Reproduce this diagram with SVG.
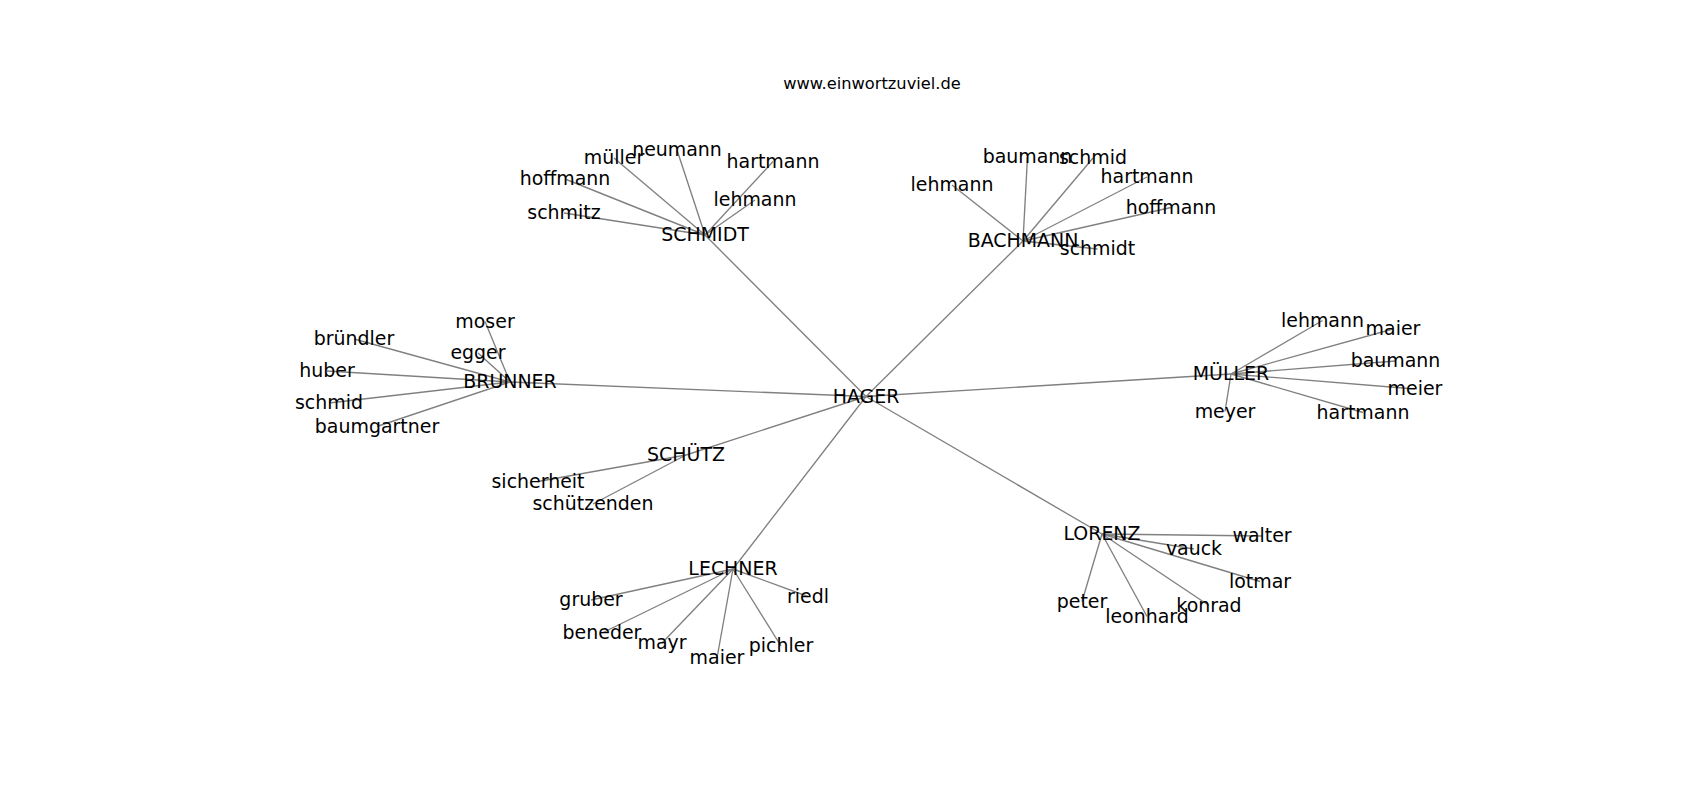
<svg xmlns="http://www.w3.org/2000/svg" width="1700" height="800" viewBox="0 0 1700 800">
<style>
text{font-family:"DejaVu Sans",sans-serif;fill:#000;text-anchor:middle}
.n{font-size:18.95px}
.t{font-size:16.25px}
#edges line{stroke:#808080;stroke-width:1.35}
</style>
<rect width="1700" height="800" fill="#fff"/>
<text class="t" x="872" y="88.8">www.einwortzuviel.de</text>
<g id="edges">
<line x1="866" y1="396.5" x2="705" y2="235"/>
<line x1="866" y1="396.5" x2="1023" y2="241"/>
<line x1="866" y1="396.5" x2="510" y2="382"/>
<line x1="866" y1="396.5" x2="1231" y2="374"/>
<line x1="866" y1="396.5" x2="686" y2="455"/>
<line x1="866" y1="396.5" x2="733" y2="569"/>
<line x1="866" y1="396.5" x2="1102" y2="534"/>
<line x1="705" y1="235" x2="677" y2="150"/>
<line x1="705" y1="235" x2="614" y2="158"/>
<line x1="705" y1="235" x2="773" y2="161.5"/>
<line x1="705" y1="235" x2="565" y2="179"/>
<line x1="705" y1="235" x2="755" y2="200"/>
<line x1="705" y1="235" x2="564" y2="213"/>
<line x1="1023" y1="241" x2="1027.5" y2="157"/>
<line x1="1023" y1="241" x2="1093" y2="158"/>
<line x1="1023" y1="241" x2="952" y2="185"/>
<line x1="1023" y1="241" x2="1147" y2="177"/>
<line x1="1023" y1="241" x2="1171" y2="207.5"/>
<line x1="1023" y1="241" x2="1097.5" y2="249"/>
<line x1="510" y1="382" x2="485" y2="321.5"/>
<line x1="510" y1="382" x2="354" y2="339"/>
<line x1="510" y1="382" x2="478" y2="353"/>
<line x1="510" y1="382" x2="327" y2="371"/>
<line x1="510" y1="382" x2="329" y2="403"/>
<line x1="510" y1="382" x2="377" y2="426.5"/>
<line x1="1231" y1="374" x2="1322.5" y2="320.5"/>
<line x1="1231" y1="374" x2="1393" y2="329"/>
<line x1="1231" y1="374" x2="1395.5" y2="361"/>
<line x1="1231" y1="374" x2="1415" y2="389"/>
<line x1="1231" y1="374" x2="1225" y2="411.5"/>
<line x1="1231" y1="374" x2="1363" y2="412.5"/>
<line x1="686" y1="455" x2="538" y2="481.5"/>
<line x1="686" y1="455" x2="593" y2="504"/>
<line x1="733" y1="569" x2="591" y2="600"/>
<line x1="733" y1="569" x2="808" y2="596.5"/>
<line x1="733" y1="569" x2="602" y2="633"/>
<line x1="733" y1="569" x2="662" y2="643"/>
<line x1="733" y1="569" x2="781" y2="646"/>
<line x1="733" y1="569" x2="717" y2="658"/>
<line x1="1102" y1="534" x2="1262" y2="536"/>
<line x1="1102" y1="534" x2="1194" y2="549"/>
<line x1="1102" y1="534" x2="1260" y2="581.5"/>
<line x1="1102" y1="534" x2="1082" y2="601.5"/>
<line x1="1102" y1="534" x2="1209" y2="605.5"/>
<line x1="1102" y1="534" x2="1147" y2="616.5"/>
</g>
<g id="labels" transform="translate(0,1)">
<g id="hager"><text class="n" x="866" y="401.7">HAGER</text></g>
<g id="schmidt"><text class="n" x="705" y="240.2">SCHMIDT</text></g>
<g id="schmidt-neumann"><text class="n" x="677" y="155.2">neumann</text></g>
<g id="schmidt-mueller"><text class="n" x="614" y="163.2">müller</text></g>
<g id="schmidt-hartmann"><text class="n" x="773" y="166.7">hartmann</text></g>
<g id="schmidt-hoffmann"><text class="n" x="565" y="184.2">hoffmann</text></g>
<g id="schmidt-lehmann"><text class="n" x="755" y="205.2">lehmann</text></g>
<g id="schmidt-schmitz"><text class="n" x="564" y="218.2">schmitz</text></g>
<g id="bachmann"><text class="n" x="1023" y="246.2">BACHMANN</text></g>
<g id="bachmann-baumann"><text class="n" x="1027.5" y="162.2">baumann</text></g>
<g id="bachmann-schmid"><text class="n" x="1093" y="163.2">schmid</text></g>
<g id="bachmann-lehmann"><text class="n" x="952" y="190.2">lehmann</text></g>
<g id="bachmann-hartmann"><text class="n" x="1147" y="182.2">hartmann</text></g>
<g id="bachmann-hoffmann"><text class="n" x="1171" y="212.7">hoffmann</text></g>
<g id="bachmann-schmidt"><text class="n" x="1097.5" y="254.2">schmidt</text></g>
<g id="brunner"><text class="n" x="510" y="387.2">BRUNNER</text></g>
<g id="brunner-moser"><text class="n" x="485" y="326.7">moser</text></g>
<g id="brunner-bruendler"><text class="n" x="354" y="344.2">bründler</text></g>
<g id="brunner-egger"><text class="n" x="478" y="358.2">egger</text></g>
<g id="brunner-huber"><text class="n" x="327" y="376.2">huber</text></g>
<g id="brunner-schmid"><text class="n" x="329" y="408.2">schmid</text></g>
<g id="brunner-baumgartner"><text class="n" x="377" y="431.7">baumgartner</text></g>
<g id="mueller"><text class="n" x="1231" y="379.2">MÜLLER</text></g>
<g id="mueller-lehmann"><text class="n" x="1322.5" y="325.7">lehmann</text></g>
<g id="mueller-maier"><text class="n" x="1393" y="334.2">maier</text></g>
<g id="mueller-baumann"><text class="n" x="1395.5" y="366.2">baumann</text></g>
<g id="mueller-meier"><text class="n" x="1415" y="394.2">meier</text></g>
<g id="mueller-meyer"><text class="n" x="1225" y="416.7">meyer</text></g>
<g id="mueller-hartmann"><text class="n" x="1363" y="417.7">hartmann</text></g>
<g id="schuetz"><text class="n" x="686" y="460.2">SCHÜTZ</text></g>
<g id="schuetz-sicherheit"><text class="n" x="538" y="486.7">sicherheit</text></g>
<g id="schuetz-schuetzenden"><text class="n" x="593" y="509.2">schützenden</text></g>
<g id="lechner"><text class="n" x="733" y="574.2">LECHNER</text></g>
<g id="lechner-gruber"><text class="n" x="591" y="605.2">gruber</text></g>
<g id="lechner-riedl"><text class="n" x="808" y="601.7">riedl</text></g>
<g id="lechner-beneder"><text class="n" x="602" y="638.2">beneder</text></g>
<g id="lechner-mayr"><text class="n" x="662" y="648.2">mayr</text></g>
<g id="lechner-pichler"><text class="n" x="781" y="651.2">pichler</text></g>
<g id="lechner-maier"><text class="n" x="717" y="663.2">maier</text></g>
<g id="lorenz"><text class="n" x="1102" y="539.2">LORENZ</text></g>
<g id="lorenz-walter"><text class="n" x="1262" y="541.2">walter</text></g>
<g id="lorenz-vauck"><text class="n" x="1194" y="554.2">vauck</text></g>
<g id="lorenz-lotmar"><text class="n" x="1260" y="586.7">lotmar</text></g>
<g id="lorenz-peter"><text class="n" x="1082" y="606.7">peter</text></g>
<g id="lorenz-konrad"><text class="n" x="1209" y="610.7">konrad</text></g>
<g id="lorenz-leonhard"><text class="n" x="1147" y="621.7">leonhard</text></g>
</g>
</svg>
